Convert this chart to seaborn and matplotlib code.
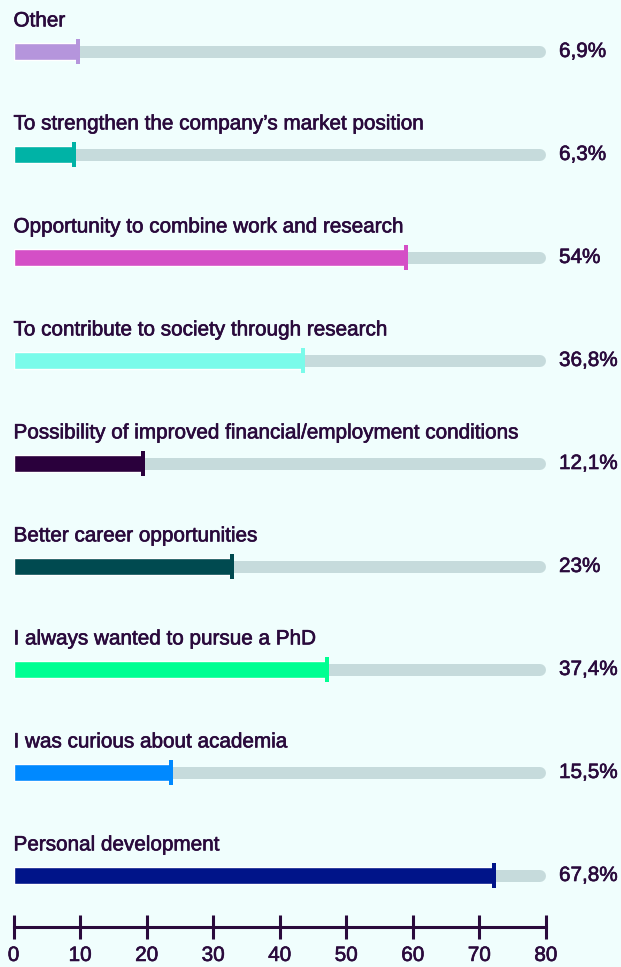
import matplotlib
matplotlib.use("Agg")
import matplotlib.pyplot as plt
import matplotlib.patheffects as pe
import seaborn as sns
import pandas as pd
import numpy as np

# ---- data ----
categories = [
    "Other",
    "To strengthen the company\u2019s market position",
    "Opportunity to combine work and research",
    "To contribute to society through research",
    "Possibility of improved financial/employment conditions",
    "Better career opportunities",
    "I always wanted to pursue a PhD",
    "I was curious about academia",
    "Personal development",
]
bar_values = [9.7, 9.1, 59.0, 43.5, 19.5, 32.8, 47.1, 23.7, 72.2]
value_labels = ["6,9%", "6,3%", "54%", "36,8%", "12,1%", "23%", "37,4%", "15,5%", "67,8%"]
bar_colors = ["#b595dc", "#00b3a6", "#d44fc6", "#7afbea", "#2a003c",
              "#004a50", "#00ff92", "#0089ff", "#001489"]
track_max = 80
x_ticks = [0, 10, 20, 30, 40, 50, 60, 70, 80]

# ---- style ----
BG = "#f0fefd"
TXT = "#2a0a3c"
TRACK = "#c6dbdc"
sns.set_style("white")
plt.rcParams["font.family"] = ["Liberation Sans", "DejaVu Sans"]

W, H, DPI = 621, 967, 100
fig = plt.figure(figsize=(W / DPI, H / DPI), dpi=DPI, facecolor=BG)

left_px, right_px = 13.5, 545.7
axis_px = 927
ax = fig.add_axes([left_px / W, (H - axis_px) / H, (right_px - left_px) / W, axis_px / H])
ax.set_facecolor(BG)

row0_px, row_step_px = 55.0, 102.6
ax.set_xlim(0, track_max)
ax.set_ylim((axis_px - row0_px) / row_step_px, -row0_px / row_step_px)

px_per_x = (right_px - left_px) / track_max
pt = 72 / DPI
FS = 14.9
bold = [pe.withStroke(linewidth=0.45, foreground=TXT)]

df = pd.DataFrame({"category": categories, "value": bar_values})
pos = np.arange(len(categories))

# background tracks (rounded)
track_h_px = 12
r = (track_h_px / 2) / px_per_x
ax.hlines(pos, r, track_max - r, colors=TRACK, linewidth=track_h_px * pt,
          capstyle="round", zorder=0.5)

sns.barplot(data=df, y="category", x="value", hue="category", palette=bar_colors,
            orient="h", width=17 / row_step_px, saturation=1, legend=False, ax=ax,
            zorder=2)

# end markers
half = 12.5 / row_step_px
ax.vlines(bar_values, pos - half, pos + half, colors=bar_colors,
          linewidth=4 * pt, zorder=3)

# labels
lab_off = 25 / row_step_px
val_x = (559 - left_px) / px_per_x
for i, (cat, lab) in enumerate(zip(categories, value_labels)):
    ax.text(0, i - lab_off, cat, ha="left", va="baseline", fontsize=FS,
            color=TXT, path_effects=bold)
    ax.text(val_x, i, lab, ha="left", va="center", fontsize=FS, color=TXT,
            clip_on=False, path_effects=bold)

# axis
for s in ["top", "left", "right"]:
    ax.spines[s].set_visible(False)
ax.spines["bottom"].set_color(TXT)
ax.spines["bottom"].set_linewidth(2.2)
ax.spines["bottom"].set_bounds(0, track_max)
ax.set_xticks(x_ticks)
ax.set_xticklabels([str(t) for t in x_ticks])
ax.tick_params(axis="x", bottom=True, direction="inout", length=24 * pt, width=2.2,
               color=TXT, labelcolor=TXT, labelsize=FS, pad=5)
for t in ax.get_xticklabels():
    t.set_path_effects(bold)
ax.set_yticks([])
ax.set_xlabel("")
ax.set_ylabel("")

fig.savefig("out.png", dpi=DPI, facecolor=BG)
